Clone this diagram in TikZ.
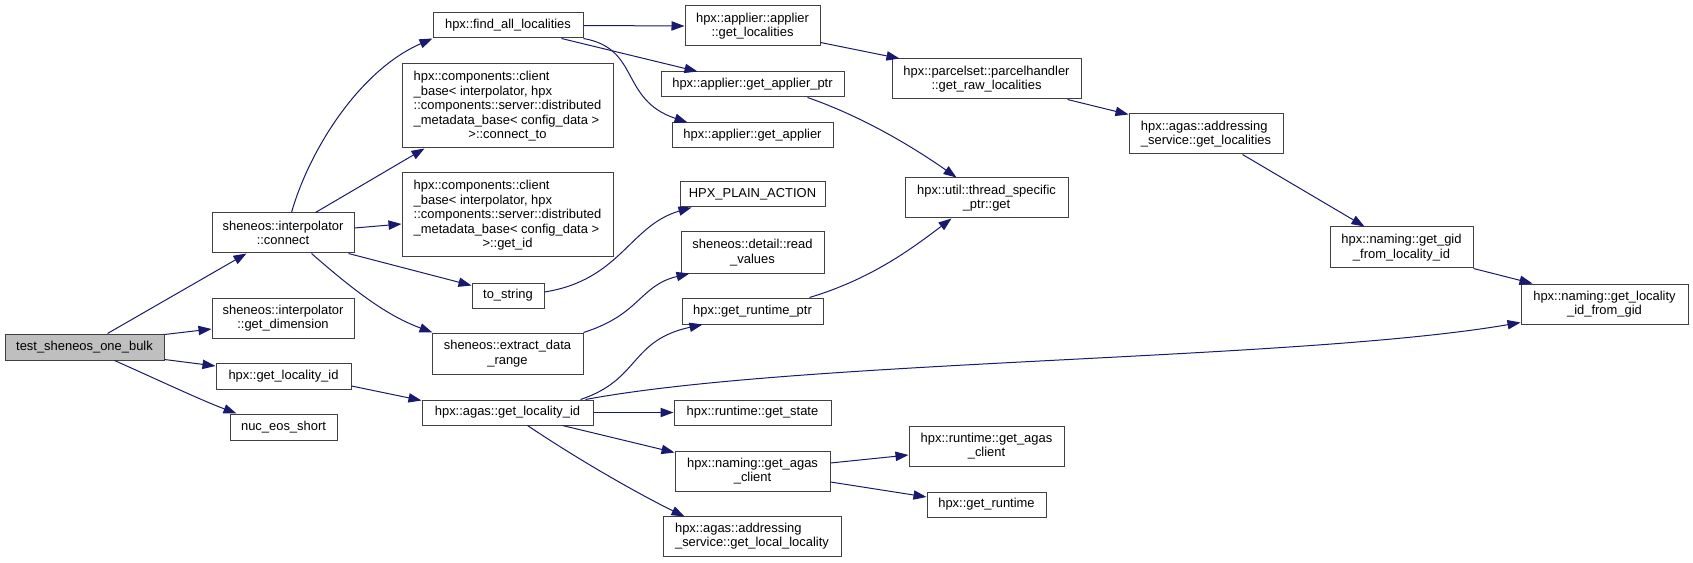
\documentclass[tikz,border=0pt]{standalone}
\usepackage{fontspec}
\setmainfont{Liberation Sans}
\usetikzlibrary{arrows.meta,calc}
\definecolor{edgec}{HTML}{191970}
\definecolor{mainfill}{HTML}{BFBFBF}
\newcommand\fnbox[7][]{\node[fn,minimum width={(#5-#3)*0.75pt},minimum height={(#6-#4)*0.75pt},#1] (#2) at ({(#3+#5)/2},{(#4+#6)/2}) {#7};}
\begin{document}
\begin{tikzpicture}[x=0.75pt,y=-0.75pt,
  fn/.style={draw=black!75,line width=0.75pt,fill=white,inner sep=0pt,align=center,font=\fontsize{9.7}{10.8}\selectfont},
  call/.style={draw=edgec,line width=0.75pt,-{Triangle[length=9.75pt,width=7pt]}}]
\fill[white] (0,0) rectangle (1693,563);
\useasboundingbox (0,0) rectangle (1693,563);
% nodes
\fnbox[fill=mainfill]{test}{5}{334}{164}{360}{test\_sheneos\_one\_bulk}
\fnbox{connect}{212}{213}{354}{253}{sheneos::interpolator\\::connect}
\fnbox{getdim}{212}{298}{354}{338}{sheneos::interpolator\\::get\_dimension}
\fnbox{glid}{216}{363}{351}{389}{hpx::get\_locality\_id}
\fnbox{nuc}{230}{414}{337}{440}{nuc\_eos\_short}
\fnbox{find}{433}{13}{583}{38}{hpx::find\_all\_localities}
\fnbox{connto}{402}{64}{613}{148}{\begin{tabular}[b]{@{}l@{}}hpx::components::client\\\_base< interpolator, hpx\\::components::server::distributed\\\_metadata\_base< config\_data >\end{tabular}\\>::connect\_to}
\fnbox{getid}{402}{173}{613}{257}{\begin{tabular}[b]{@{}l@{}}hpx::components::client\\\_base< interpolator, hpx\\::components::server::distributed\\\_metadata\_base< config\_data >\end{tabular}\\>::get\_id}
\fnbox{tostr}{472}{283}{544}{308}{to\_string}
\fnbox{extract}{432}{333}{583}{374}{sheneos::extract\_data\\\_range}
\fnbox{agas}{422}{400}{593}{425}{hpx::agas::get\_locality\_id}
\fnbox{appgl}{685}{6}{820}{46}{hpx::applier::applier\\::get\_localities}
\fnbox{gaptr}{661}{72}{844}{97}{hpx::applier::get\_applier\_ptr}
\fnbox{gapp}{672}{123}{833}{148}{hpx::applier::get\_applier}
\fnbox{plain}{680}{182}{825}{207}{HPX\_PLAIN\_ACTION}
\fnbox{readv}{681}{232}{824}{273}{sheneos::detail::read\\\_values}
\fnbox{rtptr}{682}{298}{823}{324}{hpx::get\_runtime\_ptr}
\fnbox{state}{674}{400}{831}{425}{hpx::runtime::get\_state}
\fnbox{nagas}{675}{451}{830}{491}{hpx::naming::get\_agas\\\_client}
\fnbox[align=left]{local}{663}{516}{841}{556}{hpx::agas::addressing\\\_service::get\_local\_locality}
\fnbox{raw}{892}{59}{1081}{99}{hpx::parcelset::parcelhandler\\::get\_raw\_localities}
\fnbox{tsp}{905}{178}{1068}{218}{hpx::util::thread\_specific\\\_ptr::get}
\fnbox[align=left]{addrgl}{1129}{114}{1283}{154}{hpx::agas::addressing\\\_service::get\_localities}
\fnbox{ragas}{909}{426}{1064}{466}{hpx::runtime::get\_agas\\\_client}
\fnbox{grt}{927}{492}{1046}{517}{hpx::get\_runtime}
\fnbox{gid}{1330}{227}{1473}{268}{hpx::naming::get\_gid\\\_from\_locality\_id}
\fnbox{lid}{1521}{284}{1688}{324}{hpx::naming::get\_locality\\\_id\_from\_gid}
% edges
\draw[call] ($(test.north west)+(103,0)$) -- ($(connect.south west)+(35,0)$);
\draw[call] ($(test.north east)+(0,1)$) -- ($(getdim.west)+(0,11)$);
\draw[call] ($(test.south east)+(0,-1)$) -- ($(glid.west)+(0,-10)$);
\draw[call] ($(test.south west)+(110,0)$) .. controls +(45,20) and +(-37,-14) .. ($(nuc.north west)+(7,0)$);
\draw[call] ($(connect.north west)+(80,0)$) .. controls +(18,-63) and +(-73,32) .. (find.south west);
\draw[call] ($(connect.north west)+(104,0)$) -- ($(connto.south west)+(23,0)$);
\draw[call] ($(connect.east)+(0,-5)$) -- ($(getid.west)+(0,9)$);
\draw[call] ($(connect.south east)+(-6,0)$) -- ($(tostr.west)+(0,-10)$);
\draw[call] ($(connect.south west)+(100,0)$) .. controls +(48,42) and +(-43,-16) .. ($(extract.north west)+(1,0)$);
\draw[call] (find.east) -- (appgl.west);
\draw[call] ($(find.south west)+(129,0)$) -- ($(gaptr.north west)+(37,0)$);
\draw[call] (find.south east) .. controls +(57,10) and +(-68,-23) .. ($(gapp.north west)+(16,0)$);
\draw[call] ($(appgl.south east)+(0,-4)$) -- ($(raw.north west)+(8,0)$);
\draw[call] ($(raw.south east)+(-14,0)$) -- ($(addrgl.north west)+(0,1)$);
\draw[call] ($(addrgl.south west)+(114,0)$) -- ($(gid.north west)+(35,0)$);
\draw[call] (gid.south east) -- ($(lid.north west)+(12,0)$);
\draw[call] ($(gaptr.south west)+(147,0)$) .. controls +(52,18) and +(-47,-33) .. ($(tsp.north west)+(52,0)$);
\draw[call] ($(tostr.east)+(0,-3.5)$) .. controls +(76,-12) and +(-62,18) .. ($(plain.south west)+(12,0)$);
\draw[call] (extract.north east) .. controls +(57,-18) and +(-50,12) .. ($(readv.south west)+(9,0)$);
\draw[call] ($(rtptr.north west)+(128,0)$) .. controls +(60,-18) and +(-42,32) .. ($(tsp.south west)+(47,0)$);
\draw[call] ($(glid.east)+(0,10)$) -- ($(agas.north west)+(0,1)$);
\draw[call] ($(agas.north east)+(-13,0)$) .. controls +(60,-20) and +(-73,16) .. ($(rtptr.south west)+(21,0)$);
\draw[call] ($(agas.north east)+(-8,0)$) .. controls +(215,-40) and +(-221,38) .. ($(lid.south west)+(0,-2)$);
\draw[call] (agas.east) -- (state.west);
\draw[call] ($(agas.south west)+(141,0)$) -- ($(nagas.north west)+(0,2)$);
\draw[call] ($(agas.south west)+(106,0)$) .. controls +(52,35) and +(-45,-22) .. ($(local.north west)+(22,1)$);
\draw[call] ($(nagas.east)+(0,-8)$) -- ($(ragas.west)+(0,9)$);
\draw[call] ($(nagas.east)+(0,11)$) -- ($(grt.west)+(0,-7.5)$);
\end{tikzpicture}
\end{document}
